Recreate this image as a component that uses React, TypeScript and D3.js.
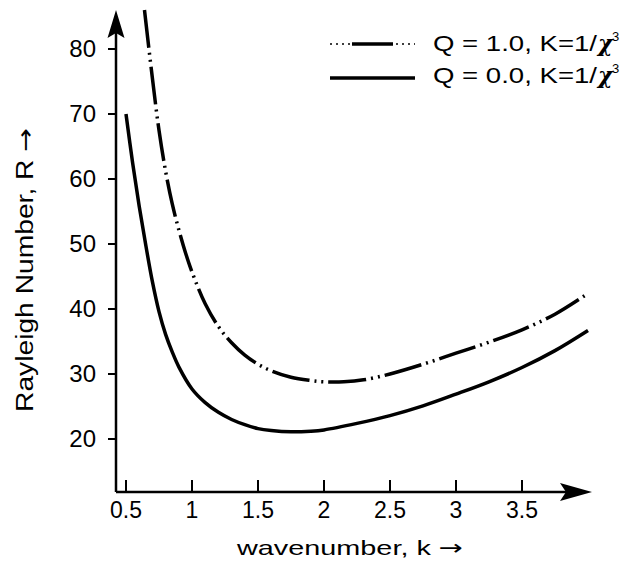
import React from "react";
import * as d3 from "d3";

const W = 631;
const H = 568;

const xTicks = [0.5, 1, 1.5, 2, 2.5, 3, 3.5];
const xTickLabels = ["0.5", "1", "1.5", "2", "2.5", "3", "3.5"];
const yTicks = [20, 30, 40, 50, 60, 70, 80];

// Q = 0.0 (solid)
const kQ0 = [0.5, 0.55, 0.6, 0.65, 0.7, 0.75, 0.8, 0.85, 0.9, 1.0, 1.1, 1.2, 1.3, 1.4, 1.5, 1.6, 1.75, 1.9, 2.0, 2.25, 2.5, 2.75, 3.0, 3.25, 3.5, 3.75, 4.0];
const rQ0 = [70, 62.5, 55.8, 49.8, 44.2, 39.6, 36.1, 33.4, 31.1, 27.7, 25.6, 24.1, 23.0, 22.2, 21.6, 21.3, 21.1, 21.2, 21.4, 22.4, 23.6, 25.1, 26.9, 28.8, 31.0, 33.6, 36.7];

// Q = 1.0 (dash-dot)
const kQ1 = [0.64, 0.7, 0.75, 0.8, 0.85, 0.9, 0.95, 1.0, 1.1, 1.2, 1.3, 1.4, 1.5, 1.6, 1.75, 1.9, 2.0, 2.15, 2.3, 2.5, 2.75, 3.0, 3.25, 3.5, 3.75, 4.0];
const rQ1 = [86, 75.5, 67.5, 61.2, 56.2, 52.2, 48.7, 45.7, 40.8, 37.3, 34.8, 32.9, 31.5, 30.5, 29.5, 29.0, 28.8, 28.8, 29.1, 30.0, 31.5, 33.2, 34.9, 36.8, 39.2, 42.4];

const legendLabels = ["Q = 1.0, K=1/", "Q = 0.0, K=1/"];

export default function App() {
  const x = d3.scaleLinear().domain([0.5, 3.5]).range([126, 522]);
  const y = d3.scaleLinear().domain([20, 80]).range([439, 49]);
  const x0 = 116;
  const y0 = 492;
  const line = d3
    .line<[number, number]>()
    .x((d) => x(d[0]))
    .y((d) => y(d[1]))
    .curve(d3.curveCatmullRom.alpha(0.5));
  const d0 = line(kQ0.map((k, i) => [k, rQ0[i]] as [number, number])) || "";
  const d1 = line(kQ1.map((k, i) => [k, rQ1[i]] as [number, number])) || "";
  const font = "'Liberation Sans', Arial, sans-serif";
  const arrowFont = "'DejaVu Sans', sans-serif";
  const dashPat = "38 5 2 5 2 5";

  return (
    <svg width={W} height={H} style={{ position: "absolute", left: 0, top: 0, background: "#fff" }} fontFamily={font}>
      <rect x={0} y={0} width={W} height={H} fill="#fff" />
      {/* curves */}
      <path d={d1} fill="none" stroke="#000" strokeWidth={3.5} strokeDasharray={dashPat} />
      <path d={d0} fill="none" stroke="#000" strokeWidth={3.5} />
      {/* axes */}
      <line x1={x0} y1={y0} x2={x0} y2={30} stroke="#000" strokeWidth={2.5} />
      <line x1={x0} y1={y0} x2={572} y2={y0} stroke="#000" strokeWidth={2.5} />
      <path d={`M${x0},10 L${x0 + 8.5},38 L${x0},33 L${x0 - 8.5},38 Z`} fill="#000" />
      <path d={`M592,${y0} L560,${y0 - 9} L566,${y0} L560,${y0 + 9} Z`} fill="#000" />
      {/* x ticks */}
      {xTicks.map((t, i) => (
        <g key={"xt" + i}>
          <line x1={x(t)} x2={x(t)} y1={y0} y2={y0 - 12} stroke="#000" strokeWidth={2} />
          <text x={x(t)} y={518} textAnchor="middle" fontSize={23} fill="#000">
            {xTickLabels[i]}
          </text>
        </g>
      ))}
      {/* y ticks */}
      {yTicks.map((t) => (
        <g key={"yt" + t}>
          <line x1={x0} x2={x0 - 8} y1={y(t)} y2={y(t)} stroke="#000" strokeWidth={2} />
          <text x={96} y={y(t)} dy="0.35em" textAnchor="end" fontSize={24} fill="#000">
            {t}
          </text>
        </g>
      ))}
      {/* axis titles */}
      <text x={350} y={555} textAnchor="middle" fontSize={21} fill="#000" textLength={226} lengthAdjust="spacingAndGlyphs">
        wavenumber, k <tspan fontFamily={arrowFont}>→</tspan>
      </text>
      <text
        transform="translate(33,270) rotate(-90)"
        textAnchor="middle"
        fontSize={23}
        fill="#000"
        textLength={284}
        lengthAdjust="spacingAndGlyphs"
      >
        Rayleigh Number, R <tspan fontFamily={arrowFont}>→</tspan>
      </text>
      {/* legend */}
      <line x1={330} x2={415} y1={44} y2={44} stroke="#000" strokeWidth={1.5} strokeDasharray="2 4" />
      <line x1={352} x2={393} y1={44} y2={44} stroke="#000" strokeWidth={3.5} />
      <line x1={330} x2={415} y1={78} y2={78} stroke="#000" strokeWidth={3.5} />
      {legendLabels.map((lab, i) => (
        <g key={"lg" + i}>
          <text x={433} y={51 + i * 32} fontSize={22} fill="#000" textLength={164} lengthAdjust="spacingAndGlyphs">
            {lab}
          </text>
          <text x={598} y={51 + i * 32} fontSize={22} fill="#000" fontStyle="italic" fontWeight="bold" fontFamily="'DejaVu Serif', serif">
            χ
          </text>
          <text x={612} y={41 + i * 32} fontSize={13} fill="#000">
            3
          </text>
        </g>
      ))}
    </svg>
  );
}
